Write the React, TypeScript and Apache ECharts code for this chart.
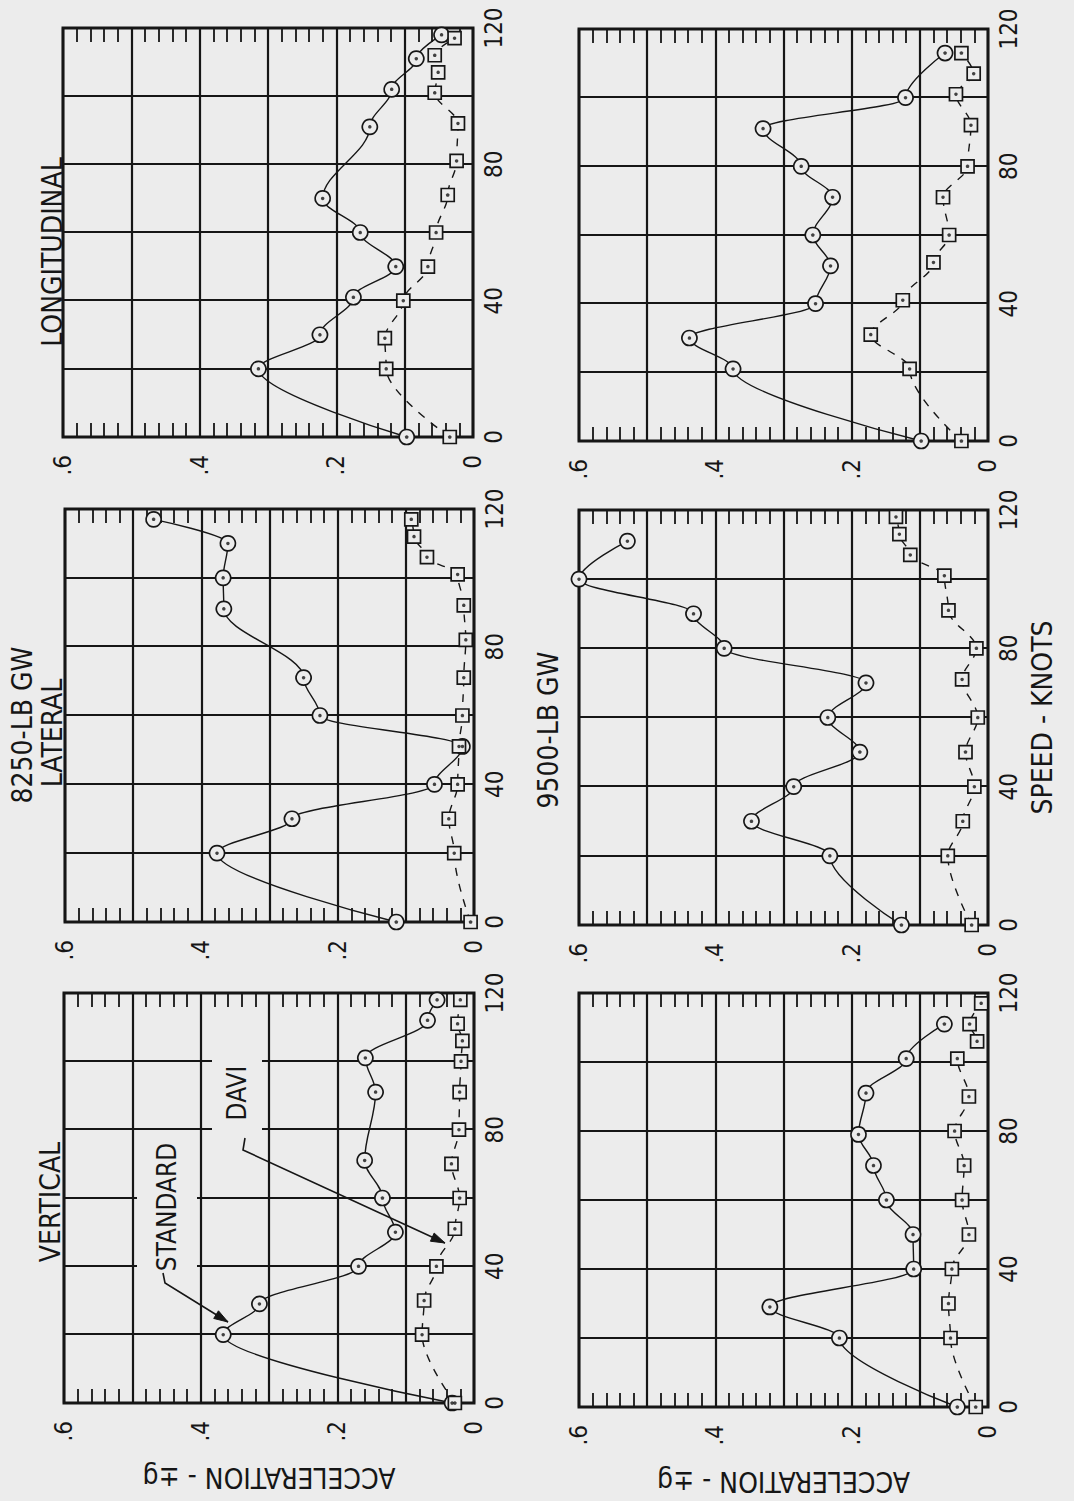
import React, { useEffect, useRef } from 'react';
import * as echarts from 'echarts';

const INK = '#161616';
const PAPER = '#ececec';
const FONT = '"Liberation Sans Narrow", "DejaVu Sans Condensed", "DejaVu Sans", sans-serif';

// ---- axis ticks ----
const SPEED_MIN = 0;
const SPEED_MAX = 120;
const SPEED_STEP = 20;
const SPEED_LABELS = [0, 40, 80, 120];
const ACCEL_MIN = 0;
const ACCEL_MAX = 0.6;
const ACCEL_STEP = 0.1;
const ACCEL_LABELS: Record<number, string> = { 0: '0', 2: '.2', 4: '.4', 6: '.6' };

// ---- 8250-LB GW : VERTICAL ----
const v8250StdSpeed = [0, 20, 29, 40, 50, 60, 71, 91, 101, 112, 118];
const v8250StdAcc = [0.032, 0.367, 0.314, 0.169, 0.115, 0.134, 0.16, 0.144, 0.159, 0.068, 0.054];
const v8250DaviSpeed = [0, 20, 30, 40, 51, 60, 70, 80, 91, 100, 106, 111, 118];
const v8250DaviAcc = [0.028, 0.076, 0.073, 0.055, 0.028, 0.021, 0.033, 0.022, 0.021, 0.019, 0.017, 0.024, 0.02];

// ---- 8250-LB GW : LATERAL ----
const l8250StdSpeed = [0, 20, 30, 40, 51, 60, 71, 91, 100, 110, 117];
const l8250StdAcc = [0.114, 0.377, 0.267, 0.058, 0.017, 0.226, 0.25, 0.367, 0.368, 0.361, 0.47];
const l8250DaviSpeed = [0, 20, 30, 40, 51, 60, 71, 82, 92, 101, 106, 112, 117];
const l8250DaviAcc = [0.005, 0.029, 0.037, 0.024, 0.022, 0.017, 0.015, 0.012, 0.015, 0.024, 0.069, 0.088, 0.092];

// ---- 8250-LB GW : LONGITUDINAL ----
const g8250StdSpeed = [0, 20, 30, 41, 50, 60, 70, 91, 102, 111, 118];
const g8250StdAcc = [0.097, 0.314, 0.224, 0.175, 0.113, 0.165, 0.22, 0.151, 0.119, 0.083, 0.046];
const g8250DaviSpeed = [0, 20, 29, 40, 50, 60, 71, 81, 92, 101, 107, 112, 117];
const g8250DaviAcc = [0.034, 0.127, 0.129, 0.102, 0.066, 0.054, 0.037, 0.024, 0.022, 0.056, 0.051, 0.056, 0.027];

// ---- 9500-LB GW : VERTICAL ----
const v9500StdSpeed = [0, 20, 29, 40, 50, 60, 70, 79, 91, 101, 111];
const v9500StdAcc = [0.045, 0.218, 0.32, 0.109, 0.11, 0.149, 0.168, 0.19, 0.179, 0.12, 0.064];
const v9500DaviSpeed = [0, 20, 30, 40, 50, 60, 70, 80, 90, 101, 106, 111, 117];
const v9500DaviAcc = [0.018, 0.055, 0.058, 0.053, 0.028, 0.038, 0.035, 0.049, 0.028, 0.045, 0.016, 0.027, 0.01];

// ---- 9500-LB GW : LATERAL ----
const l9500StdSpeed = [0, 20, 30, 40, 50, 60, 70, 80, 90, 100, 111];
const l9500StdAcc = [0.127, 0.232, 0.347, 0.285, 0.188, 0.235, 0.179, 0.387, 0.432, 0.6, 0.529];
const l9500DaviSpeed = [0, 20, 30, 40, 50, 60, 71, 80, 91, 101, 107, 113, 118];
const l9500DaviAcc = [0.024, 0.059, 0.037, 0.02, 0.033, 0.015, 0.038, 0.017, 0.058, 0.064, 0.114, 0.13, 0.135];

// ---- 9500-LB GW : LONGITUDINAL ----
const g9500StdSpeed = [0, 21, 30, 40, 51, 60, 71, 80, 91, 100, 113];
const g9500StdAcc = [0.098, 0.374, 0.438, 0.253, 0.231, 0.257, 0.228, 0.274, 0.33, 0.121, 0.063];
const g9500DaviSpeed = [0, 21, 31, 41, 52, 60, 71, 80, 92, 101, 107, 113];
const g9500DaviAcc = [0.039, 0.115, 0.172, 0.125, 0.08, 0.057, 0.066, 0.03, 0.025, 0.047, 0.021, 0.039];

// ---- texts ----
const Y_NAME = 'ACCELERATION - \u00B1g';
const X_NAME = 'SPEED - KNOTS';

const zip = (a: number[], b: number[]) => a.map((v, i) => [v, b[i]]);

type Panel = {
  box: { left: number; top: number; width: number; height: number };
  std: number[][];
  davi: number[][];
  yName?: boolean;
  xName?: boolean;
};

const PANELS: Panel[] = [
  { box: { left: 98, top: 64, width: 410, height: 410 }, std: zip(v8250StdSpeed, v8250StdAcc), davi: zip(v8250DaviSpeed, v8250DaviAcc), yName: true },
  { box: { left: 579, top: 65, width: 413, height: 409 }, std: zip(l8250StdSpeed, l8250StdAcc), davi: zip(l8250DaviSpeed, l8250DaviAcc) },
  { box: { left: 1064, top: 63, width: 409, height: 410 }, std: zip(g8250StdSpeed, g8250StdAcc), davi: zip(g8250DaviSpeed, g8250DaviAcc) },
  { box: { left: 94, top: 579, width: 414, height: 409 }, std: zip(v9500StdSpeed, v9500StdAcc), davi: zip(v9500DaviSpeed, v9500DaviAcc), yName: true },
  { box: { left: 576, top: 579, width: 415, height: 409 }, std: zip(l9500StdSpeed, l9500StdAcc), davi: zip(l9500DaviSpeed, l9500DaviAcc), xName: true },
  { box: { left: 1060, top: 579, width: 412, height: 409 }, std: zip(g9500StdSpeed, g9500StdAcc), davi: zip(g9500DaviSpeed, g9500DaviAcc) },
];

function arrow(points: number[][]) {
  const n = points.length;
  const [tx, ty] = points[n - 1];
  const [px, py] = points[n - 2];
  const dx = tx - px;
  const dy = ty - py;
  const len = Math.hypot(dx, dy);
  const ux = dx / len;
  const uy = dy / len;
  const hl = 14;
  const hw = 4.5;
  const bx = tx - ux * hl;
  const by = ty - uy * hl;
  return [
    { type: 'polyline', z: 20, shape: { points }, style: { stroke: INK, lineWidth: 1.6, fill: null } },
    {
      type: 'polygon',
      z: 21,
      shape: { points: [[tx, ty], [bx - uy * hw, by + ux * hw], [bx + uy * hw, by - ux * hw]] },
      style: { fill: INK, stroke: INK, lineWidth: 1 },
    },
  ];
}

function title(text: string, x: number, y: number, size = 28, extra: any = {}) {
  return {
    type: 'text',
    x,
    y,
    z: 15,
    style: {
      text,
      fill: INK,
      fontSize: size,
      fontFamily: FONT,
      align: 'center',
      verticalAlign: 'middle',
      ...extra,
    },
  };
}

function buildOption() {
  const grid: any[] = [];
  const xAxis: any[] = [];
  const yAxis: any[] = [];
  const series: any[] = [];
  const tickStyle = { color: INK, width: 1.8 };

  PANELS.forEach((p, i) => {
    grid.push({ ...p.box, show: true, borderColor: INK, borderWidth: 3, backgroundColor: 'transparent' });
    xAxis.push({
      gridIndex: i,
      type: 'value',
      min: SPEED_MIN,
      max: SPEED_MAX,
      interval: SPEED_STEP,
      axisLine: { show: false },
      axisTick: { show: false },
      splitLine: { show: true, lineStyle: { color: INK, width: 2.2 } },
      axisLabel: {
        margin: 9,
        color: INK,
        fontSize: 24,
        fontFamily: FONT,
        formatter: (v: number) => (SPEED_LABELS.includes(v) ? String(v) : ''),
      },
      name: p.xName ? X_NAME : '',
      nameLocation: 'middle',
      nameGap: 40,
      nameTextStyle: { color: INK, fontSize: 28, fontFamily: FONT },
    });
    yAxis.push({
      gridIndex: i,
      type: 'value',
      position: 'left',
      min: ACCEL_MIN,
      max: ACCEL_MAX,
      interval: ACCEL_STEP,
      axisLine: { show: false },
      axisTick: { show: true, inside: true, length: 14, lineStyle: tickStyle },
      minorTick: { show: true, splitNumber: 5, length: 14, lineStyle: tickStyle },
      splitLine: { show: true, lineStyle: { color: INK, width: 2.2 } },
      axisLabel: {
        margin: 18,
        color: INK,
        fontSize: 24,
        fontFamily: FONT,
        formatter: (v: number) => ACCEL_LABELS[Math.round(v * 10)] ?? '',
      },
      name: p.yName ? Y_NAME : '',
      nameLocation: 'middle',
      nameGap: 60,
      nameTextStyle: { color: INK, fontSize: 28, fontFamily: FONT },
    });
    yAxis.push({
      gridIndex: i,
      type: 'value',
      position: 'right',
      min: ACCEL_MIN,
      max: ACCEL_MAX,
      interval: ACCEL_STEP,
      axisLine: { show: false },
      axisLabel: { show: false },
      splitLine: { show: false },
      axisTick: { show: true, inside: true, length: 14, lineStyle: tickStyle },
      minorTick: { show: true, splitNumber: 5, length: 14, lineStyle: tickStyle },
    });

    const yi = 2 * i;
    series.push({
      name: 'STANDARD',
      type: 'line',
      xAxisIndex: i,
      yAxisIndex: yi,
      data: p.std,
      smooth: 0.35,
      smoothMonotone: 'x',
      clip: false,
      symbol: 'circle',
      symbolSize: 15,
      lineStyle: { color: INK, width: 1.4 },
      itemStyle: { color: PAPER, borderColor: INK, borderWidth: 1.7 },
      z: 4,
      silent: true,
    });
    series.push({
      type: 'scatter',
      xAxisIndex: i,
      yAxisIndex: yi,
      data: p.std,
      symbol: 'circle',
      symbolSize: 3.5,
      itemStyle: { color: INK },
      clip: false,
      z: 6,
      silent: true,
    });
    series.push({
      name: 'DAVI',
      type: 'line',
      xAxisIndex: i,
      yAxisIndex: yi,
      data: p.davi,
      smooth: 0.35,
      smoothMonotone: 'x',
      clip: false,
      symbol: 'rect',
      symbolSize: 13,
      lineStyle: { color: INK, width: 1.4, type: [8, 8] },
      itemStyle: { color: PAPER, borderColor: INK, borderWidth: 1.7 },
      z: 4,
      silent: true,
    });
    series.push({
      type: 'scatter',
      xAxisIndex: i,
      yAxisIndex: yi,
      data: p.davi,
      symbol: 'circle',
      symbolSize: 3.5,
      itemStyle: { color: INK },
      clip: false,
      z: 6,
      silent: true,
    });
  });

  const graphic: any[] = [
    title('VERTICAL', 299, 50),
    title('8250-LB GW', 776, 22),
    title('LATERAL', 768, 52),
    title('LONGITUDINAL', 1249, 52),
    title('9500-LB GW', 771, 548),
    title('STANDARD', 294, 167, 26, { backgroundColor: PAPER, padding: [17, 6, 17, 6] }),
    title('DAVI', 408, 237, 26, { backgroundColor: PAPER, padding: [12, 16, 12, 16] }),
    ...arrow([[228, 163], [218, 165], [179, 228]]),
    ...arrow([[363, 245], [351, 243], [258, 445]]),
  ];

  return {
    animation: false,
    backgroundColor: PAPER,
    grid,
    xAxis,
    yAxis,
    series,
    graphic,
  };
}

export default function App() {
  const ref = useRef<HTMLDivElement>(null);
  useEffect(() => {
    if (!ref.current) return;
    const chart = echarts.init(ref.current, null, { renderer: 'svg' });
    chart.setOption(buildOption());
    return () => chart.dispose();
  }, []);
  return (
    <div
      style={{
        position: 'fixed',
        left: 0,
        top: 0,
        width: 1074,
        height: 1501,
        overflow: 'hidden',
        background: PAPER,
      }}
    >
      <div
        style={{
          position: 'absolute',
          left: 0,
          top: 0,
          width: 1501,
          height: 1074,
          transformOrigin: '0 0',
          transform: 'translate(0px, 1501px) rotate(-90deg)',
        }}
      >
        <div ref={ref} style={{ width: 1501, height: 1074 }} />
      </div>
    </div>
  );
}
